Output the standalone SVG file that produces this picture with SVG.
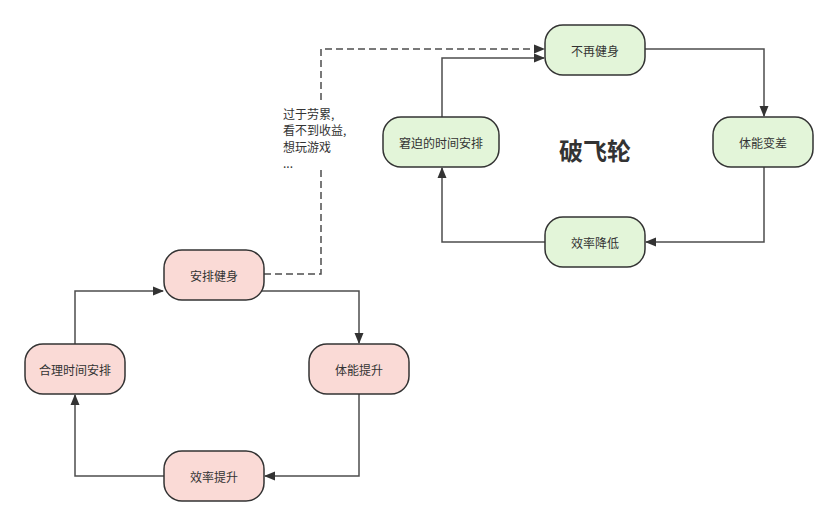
<svg xmlns="http://www.w3.org/2000/svg" width="839" height="526" viewBox="0 0 839 526">
<defs>
<style>
.pink{fill:#fadad6;stroke:#333;stroke-width:1.5}
.green{fill:#e3f5d9;stroke:#333;stroke-width:1.5}
.lbl{font-family:"Noto Sans CJK SC","Noto Sans",sans-serif;font-size:12px;fill:#333;text-anchor:middle;dominant-baseline:central}
.note{font-family:"Noto Sans CJK SC","Noto Sans",sans-serif;font-size:12px;fill:#333}
.edge{fill:none;stroke:#4d4d4d;stroke-width:1.5}
.dash{stroke-dasharray:7 4}
</style>
<marker id="arr" viewBox="0 0 11 10" refX="10" refY="5" markerWidth="11" markerHeight="10" markerUnits="userSpaceOnUse" orient="auto">
<path d="M0,0.5 L11,5 L0,9.5 Z" fill="#333"/>
</marker>
</defs>
<rect width="839" height="526" fill="#fff"/>
<g id="connectors">
<path class="edge" d="M262,291 H359 V343" marker-end="url(#arr)"/>
<path class="edge" d="M359,394 V476 H265" marker-end="url(#arr)"/>
<path class="edge" d="M164,476 H75 V395" marker-end="url(#arr)"/>
<path class="edge" d="M75,344 V291 H163" marker-end="url(#arr)"/>
<path class="edge" d="M645,49 H764 V116" marker-end="url(#arr)"/>
<path class="edge" d="M764,167 V242 H646" marker-end="url(#arr)"/>
<path class="edge" d="M545,242 H442 V168" marker-end="url(#arr)"/>
<path class="edge" d="M442,117 V58 H544" marker-end="url(#arr)"/>
<path class="edge dash" d="M264,274 H321 V49 H544" marker-end="url(#arr)"/>
</g>
<g id="label-note">
<rect x="280" y="102" width="76" height="68" fill="#fff"/>
<text class="note" x="283" y="119">过于劳累,</text>
<text class="note" x="283" y="135">看不到收益,</text>
<text class="note" x="283" y="152">想玩游戏</text>
<text class="note" x="283" y="168">...</text>
</g>
<g id="title">
<text x="595" y="149" font-family="Noto Sans CJK SC,sans-serif" font-size="24" font-weight="bold" fill="#333" text-anchor="middle" dominant-baseline="central">破飞轮</text>
</g>
<g id="n-anpai"><rect class="pink" x="164" y="250" width="100" height="50" rx="18"/><text class="lbl" x="214" y="275">安排健身</text></g>
<g id="n-heli"><rect class="pink" x="25" y="344" width="100" height="50" rx="18"/><text class="lbl" x="75" y="369">合理时间安排</text></g>
<g id="n-tineng"><rect class="pink" x="309" y="344" width="100" height="50" rx="18"/><text class="lbl" x="359" y="369">体能提升</text></g>
<g id="n-xiaolv"><rect class="pink" x="164" y="451" width="100" height="50" rx="18"/><text class="lbl" x="214" y="476">效率提升</text></g>
<g id="n-buzai"><rect class="green" x="545" y="25" width="100" height="50" rx="18"/><text class="lbl" x="595" y="50">不再健身</text></g>
<g id="n-jiongpo"><rect class="green" x="383" y="117" width="116" height="50" rx="18"/><text class="lbl" x="441" y="142">窘迫的时间安排</text></g>
<g id="n-biancha"><rect class="green" x="713" y="117" width="100" height="50" rx="18"/><text class="lbl" x="763" y="142">体能变差</text></g>
<g id="n-jiangdi"><rect class="green" x="545" y="217" width="100" height="50" rx="18"/><text class="lbl" x="595" y="242">效率降低</text></g>
</svg>
